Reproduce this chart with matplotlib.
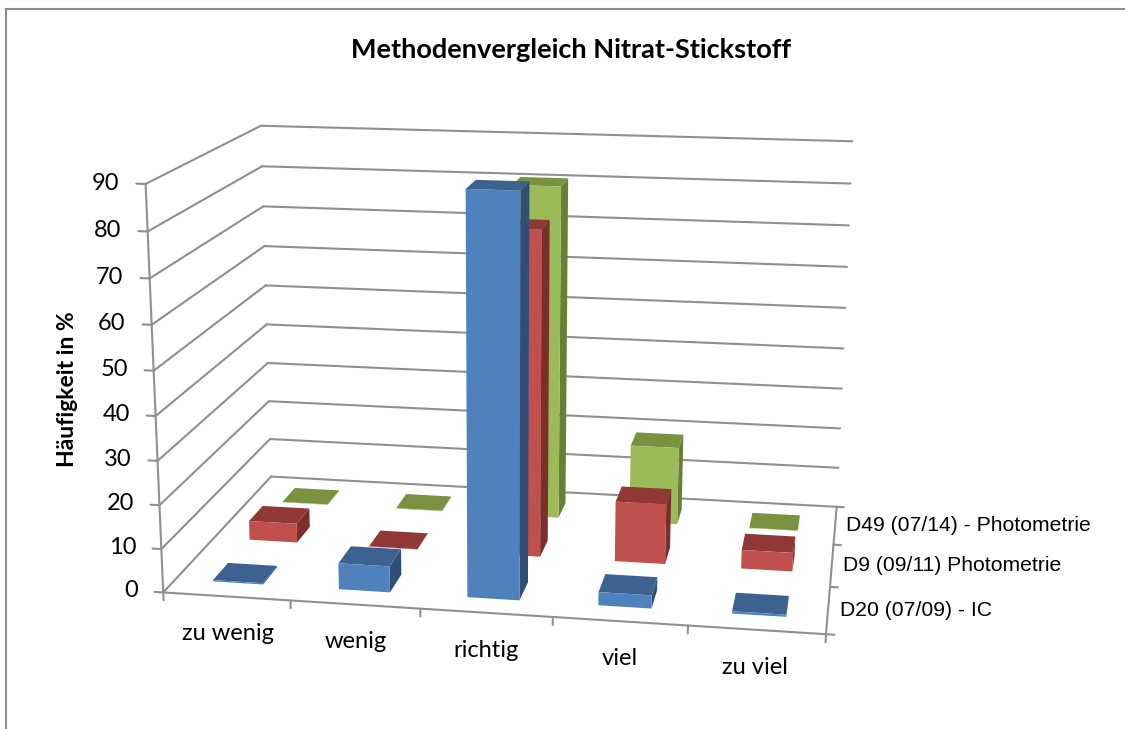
import numpy as np
import matplotlib
matplotlib.use("Agg")
import matplotlib.pyplot as plt
from matplotlib.lines import Line2D

title = "Methodenvergleich Nitrat-Stickstoff"
ylabel = "Häufigkeit in %"
categories = ["zu wenig", "wenig", "richtig", "viel", "zu viel"]
series = ["D20 (07/09) - IC", "D9 (09/11) Photometrie", "D49 (07/14) - Photometrie"]
ic = [0.3, 6.0, 89.5, 3.0, 0.5]
d9 = [4.6, 0.1, 76.0, 14.2, 4.4]
d49 = [0.1, 0.1, 80.7, 19.0, 0.1]
values = [ic, d9, d49]
zticks = list(range(0, 100, 10))

W, H = 1125, 729
nx, ny, zmax = len(categories), len(series), zticks[-1]

# camera: where known corners of the plot box fall on the canvas
box_3d = [(0, 0, 0), (nx, 0, 0), (nx, ny, 0), (0, ny, 0), (0, 0, zmax), (0, ny, zmax), (nx, ny, zmax)]
box_px = [(163.3, 592.3), (826, 634.3), (836.7, 506.7), (271, 476.7), (145.5, 184), (261, 125.7), (852.3, 141.3)]
A, b = [], []
for (X, Y, Z), (u, v) in zip(box_3d, box_px):
    A.append([X, Y, Z, 1, 0, 0, 0, 0, -u * X, -u * Y, -u * Z]); b.append(u)
    A.append([0, 0, 0, 0, X, Y, Z, 1, -v * X, -v * Y, -v * Z]); b.append(v)
p = np.linalg.lstsq(np.array(A, float), np.array(b, float), rcond=None)[0]
M = np.array([p[:4], p[4:8], [0, 1, 0, 0], [p[8], p[9], p[10], 1.0]])

fig = plt.figure(figsize=(W / 100, H / 100), dpi=100, facecolor="white")
ax = fig.add_axes([0, 0, 1, 1], projection="3d")
ax.set_axis_off()
ax.patch.set_visible(False)
ax.computed_zorder = False
ax.set_proj_type("ortho")
ax.get_proj = lambda: M
ax.apply_aspect = lambda position=None: None

GRID = "#8f8f8f"
lw = 1.5


def seg(a, c):
    ax.plot([a[0], c[0]], [a[1], c[1]], [a[2], c[2]], color=GRID, lw=lw, zorder=1, solid_capstyle="round")


for z in zticks:
    seg((0, 0, z), (0, ny, z))
    seg((0, ny, z), (nx, ny, z))
    seg((0, 0, z), (-0.07, 0, z))
    ax.text(-0.2, 0, z, str(z), ha="right", va="center", fontsize=17, family="Lato", color="black")
seg((0, 0, 0), (0, 0, zmax))
seg((0, 0, 0), (nx, 0, 0))
seg((nx, 0, 0), (nx, ny, 0))
for k in range(nx + 1):
    seg((k, 0, 0), (k, 0, -1.8))
for i in range(ny + 1):
    seg((nx, i, 0), (nx + 0.06, i, 0))
for k, c in enumerate(categories):
    ax.text(k + 0.5, 0, -8.5, c, ha="center", va="center", fontsize=17, family="Lato", color="black")
for i, s in enumerate(series):
    ax.text(nx + 0.09, i + 0.5, 0, s, ha="left", va="center", fontsize=15.2, family="Liberation Sans", color="black")

clear = (0, 0, 0, 0)
palette = [("#4F81BD", "#3D628F", "#2F4F77"), ("#C0504D", "#8F3836", "#7A2F2D"), ("#9BBB59", "#78923F", "#687F36")]
width = 0.4
for i in reversed(range(ny)):
    front, top, side = palette[i]
    for k, v in enumerate(values[i]):
        ax.bar3d(k + 0.3, i + 0.3, 0, width, width, v,
                 color=[clear, top, front, clear, clear, side],
                 shade=False, edgecolor="none", zorder=5 + (ny - i))

ax.set_autoscale_on(False)
ax.viewLim.intervalx = (0, W)
ax.viewLim.intervaly = (H, 0)

border = "#8c8c8c"
fig.add_artist(Line2D([5.5 / W, 5.5 / W], [0, 1 - 9 / H], color=border, lw=1.5))
fig.add_artist(Line2D([5.5 / W, 1], [1 - 9 / H, 1 - 9 / H], color=border, lw=1.5))

fig.text(571 / W, 1 - 50 / H, title, ha="center", va="center", fontsize=19.5, fontweight="bold", family="Lato")
fig.text(68 / W, 1 - 389 / H, ylabel, ha="center", va="center", rotation=90, fontsize=16.5, fontweight="bold", family="Lato")

fig.savefig("out.png", dpi=100)
